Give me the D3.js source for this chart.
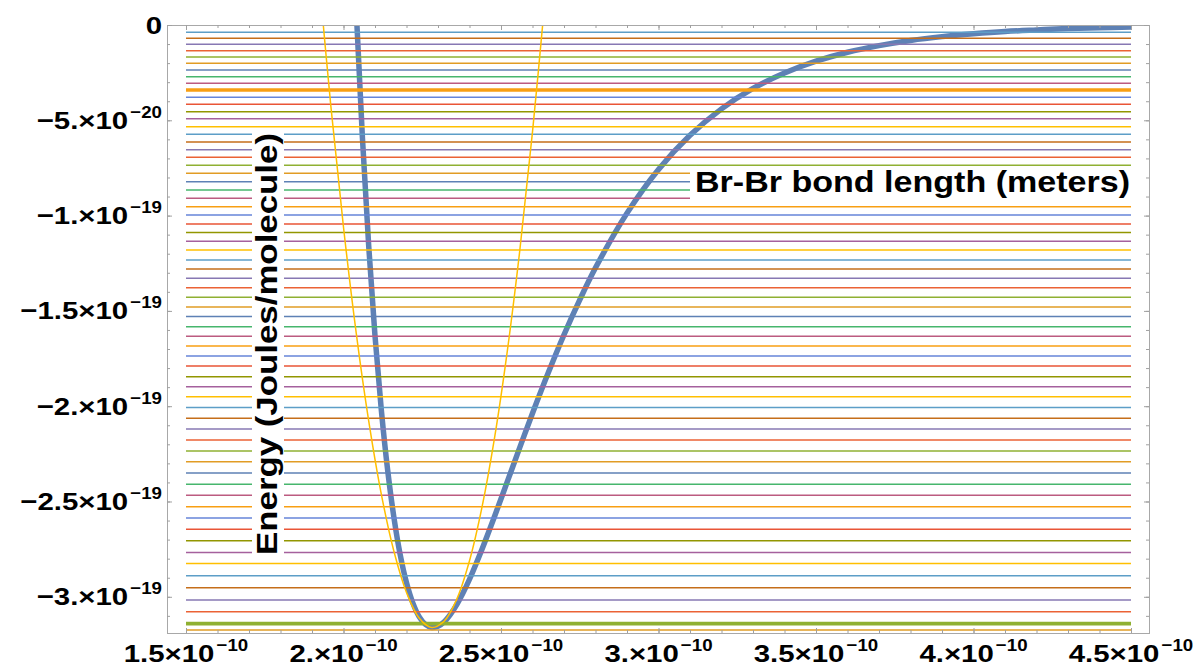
<!DOCTYPE html>
<html>
<head>
<meta charset="utf-8">
<script src="https://cdn.jsdelivr.net/npm/d3@7"></script>
<style>
  body { margin: 0; background: #fff; }
  text { font-family: "Liberation Sans", Arial, sans-serif; font-weight: bold; fill: #000; }
</style>
</head>
<body>
<div id="chart"></div>
<script>
// energies in units of 1e-20 J, bond length in units of 1e-10 m

// horizontal energy levels, bottom to top
const levelEnergies = [
  -31.74, -31.41, -30.78, -30.17, -29.52, -28.89, -28.26, -27.67, -27.06, -26.46,
  -25.86, -25.27, -24.67, -24.09, -23.50, -22.92, -22.35, -21.77, -21.20, -20.63,
  -20.07, -19.50, -18.98, -18.45, -17.89, -17.37, -16.84, -16.33, -15.83, -15.30,
  -14.80, -14.29, -13.78, -13.29, -12.80, -12.33, -11.80, -11.35, -10.89, -10.44,
  -9.97, -9.53, -9.09, -8.66, -8.22, -7.78, -7.36, -6.94, -6.54, -6.14,
  -5.73, -5.34, -4.92, -4.55, -4.16, -3.79, -3.41, -3.06, -2.71, -2.36,
  -2.01, -1.68, -1.35, -1.01, -0.70, -0.38
];
const thickLevels = [1, 56];

const palette = ["#5E81B5", "#E19C24", "#8FB032", "#EB6235", "#8778B3", "#C56E1A", "#5D9EC7",
  "#FFBF00", "#A5609D", "#929600", "#E95536", "#6685D9", "#F89F13", "#BC5B80", "#47B66D"];

// Morse curve
const morseR = [2.02, 2.04, 2.06, 2.08, 2.10, 2.12, 2.14, 2.16, 2.18, 2.20, 2.22, 2.24, 2.26, 2.28,
  2.30, 2.32, 2.34, 2.36, 2.38, 2.40, 2.44, 2.48, 2.52, 2.56, 2.60, 2.65, 2.70, 2.75, 2.80,
  2.90, 3.00, 3.10, 3.20, 3.30, 3.40, 3.50, 3.60, 3.70, 3.80, 3.90, 4.00, 4.10, 4.20, 4.30, 4.40, 4.50];
const morseE = [9.0, 0.91, -5.90, -11.59, -16.31, -20.19, -23.33, -25.83, -27.79, -29.26, -30.32, -31.04, -31.45, -31.61,
  -31.55, -31.31, -30.91, -30.40, -29.78, -29.08, -27.49, -25.76, -23.96, -22.15, -20.37, -18.25, -16.25, -14.42, -12.74,
  -9.87, -7.58, -5.79, -4.40, -3.33, -2.52, -1.90, -1.43, -1.08, -0.81, -0.61, -0.46, -0.34, -0.26, -0.19, -0.15, -0.11];

// harmonic approximation
const harmR = [1.92, 1.96, 2.00, 2.04, 2.08, 2.12, 2.16, 2.20, 2.24, 2.28, 2.32, 2.36, 2.40, 2.44, 2.48, 2.52, 2.56, 2.60, 2.64];
const harmE = [2.89, -4.28, -10.61, -16.11, -20.77, -24.61, -27.61, -29.77, -31.11, -31.61, -31.27, -30.11, -28.11, -25.27, -21.61, -17.11, -11.78, -5.61, 1.39];

const xTicks = [1.5, 2, 2.5, 3, 3.5, 4, 4.5];
const xTickMant = ["1.5", "2.", "2.5", "3.", "3.5", "4.", "4.5"];
const xTickExp = ["−10", "−10", "−10", "−10", "−10", "−10", "−10"];
const yTicks = [0, -5, -10, -15, -20, -25, -30];
const yTickMant = ["0", "−5.", "−1.", "−1.5", "−2.", "−2.5", "−3."];
const yTickExp = ["", "−20", "−19", "−19", "−19", "−19", "−19"];

const W = 1198, H = 668;
const frame = { left: 167, right: 1149, top: 25, bottom: 633 };

const svg = d3.select("#chart").append("svg").attr("width", W).attr("height", H);

const x = d3.scaleLinear().domain([1.5, 4.5]).range([186, 1131]);
const y = d3.scaleLinear().domain([-31.9, 0]).range([frame.bottom, frame.top]);

svg.append("defs").append("clipPath").attr("id", "plotclip")
  .append("rect")
  .attr("x", frame.left).attr("y", frame.top)
  .attr("width", frame.right - frame.left).attr("height", frame.bottom - frame.top);

const plot = svg.append("g").attr("clip-path", "url(#plotclip)");

const line = d3.line().x(d => x(d[0])).y(d => y(d[1])).curve(d3.curveCatmullRom.alpha(0.5));

// Morse potential (drawn first, levels cross over it)
plot.append("path")
  .datum(morseR.map((r, i) => [r, morseE[i]]))
  .attr("d", line)
  .attr("fill", "none")
  .attr("stroke", palette[0])
  .attr("stroke-width", 5.5);

// energy levels
plot.selectAll(".level")
  .data(levelEnergies)
  .enter().append("line")
  .attr("class", "level")
  .attr("x1", x(1.5)).attr("x2", x(4.5))
  .attr("y1", d => y(d)).attr("y2", d => y(d))
  .attr("stroke", (d, i) => palette[(i + 1) % palette.length])
  .attr("stroke-width", (d, i) => thickLevels.includes(i) ? 3.6 : 1.5);

// harmonic parabola
plot.append("path")
  .datum(harmR.map((r, i) => [r, harmE[i]]))
  .attr("d", line)
  .attr("fill", "none")
  .attr("stroke", "#FFBF00")
  .attr("stroke-width", 1.5);

// frame and ticks
svg.append("rect")
  .attr("x", frame.left + 0.5).attr("y", frame.top + 0.5)
  .attr("width", frame.right - frame.left).attr("height", frame.bottom - frame.top)
  .attr("fill", "none").attr("stroke", "#a8a8a8").attr("stroke-width", 1);

const xMinor = d3.range(15, 46).map(v => v / 10);
const yMinor = d3.range(0, -32, -1);

function tickAxis(axis, pos, vals, size) {
  svg.append("g")
    .attr("transform", pos)
    .call(axis.tickValues(vals).tickSize(-size).tickFormat(""))
    .call(g => g.select(".domain").remove())
    .call(g => g.selectAll("line").attr("stroke", "#a0a0a0"));
}
tickAxis(d3.axisBottom(x), `translate(0,${frame.bottom})`, xMinor, 3);
tickAxis(d3.axisBottom(x), `translate(0,${frame.bottom})`, xTicks, 5);
tickAxis(d3.axisTop(x), `translate(0,${frame.top})`, xMinor, 3);
tickAxis(d3.axisTop(x), `translate(0,${frame.top})`, xTicks, 5);
tickAxis(d3.axisLeft(y), `translate(${frame.left},0)`, yMinor, 3);
tickAxis(d3.axisLeft(y), `translate(${frame.left},0)`, yTicks, 5);
tickAxis(d3.axisRight(y), `translate(${frame.right},0)`, yMinor, 3);
tickAxis(d3.axisRight(y), `translate(${frame.right},0)`, yTicks, 5);

// tick labels like "2.5×10^-10"
function sciLabel(g, mant, exp) {
  const m = g.append("text").attr("font-size", 24.5).text(mant ? mant + (exp ? "×10" : "") : "");
  const mw = m.node().getComputedTextLength() * 1.2;
  m.attr("transform", "scale(1.2,1)");
  let total = mw;
  if (exp) {
    const s = g.append("text").attr("font-size", 17).text(exp);
    const sw = s.node().getComputedTextLength() * 1.1;
    s.attr("transform", `translate(${mw + 2},-11) scale(1.1,1)`);
    total = mw + 2 + sw;
  }
  return total;
}

xTicks.forEach((t, i) => {
  const g = svg.append("g");
  const w = sciLabel(g, xTickMant[i], xTickExp[i]);
  g.attr("transform", `translate(${x(t) - w / 2},662)`);
});

yTicks.forEach((t, i) => {
  const g = svg.append("g");
  const w = sciLabel(g, yTickMant[i], yTickExp[i]);
  g.attr("transform", `translate(${162 - w},${y(t) + 8.5})`);
});

// axis labels with white background
svg.append("rect").attr("x", 690).attr("y", 168).attr("width", 443).attr("height", 35).attr("fill", "#fff");
svg.append("text")
  .attr("x", 912.5).attr("y", 192)
  .attr("text-anchor", "middle")
  .attr("font-size", 30)
  .attr("textLength", 435).attr("lengthAdjust", "spacingAndGlyphs")
  .text("Br-Br bond length (meters)");

svg.append("rect").attr("x", 252).attr("y", 131).attr("width", 32).attr("height", 426).attr("fill", "#fff");
svg.append("text")
  .attr("transform", "translate(277,344) rotate(-90)")
  .attr("text-anchor", "middle")
  .attr("font-size", 30)
  .attr("textLength", 422).attr("lengthAdjust", "spacingAndGlyphs")
  .text("Energy (Joules/molecule)");
</script>
</body>
</html>
